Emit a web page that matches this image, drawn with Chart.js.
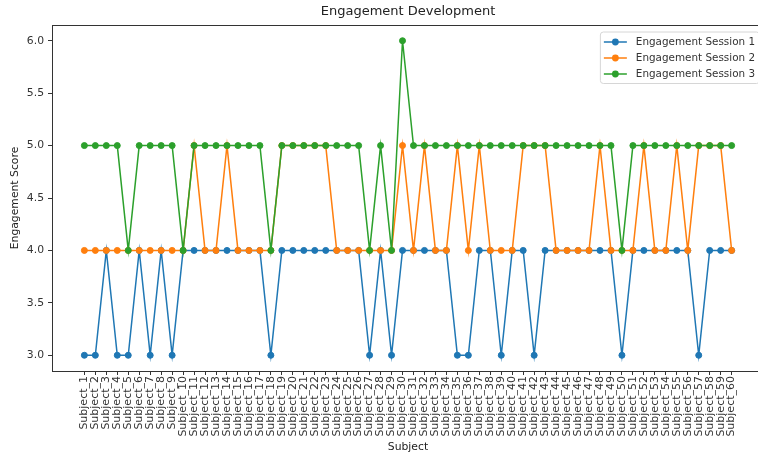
<!DOCTYPE html>
<html>
<head>
<meta charset="utf-8">
<title>Engagement Development</title>
<script src="https://cdn.jsdelivr.net/npm/chart.js@4.4.1/dist/chart.umd.min.js"></script>
<style>
  html, body { margin: 0; padding: 0; background: #fff; overflow: hidden; }
  canvas { display: block; }
</style>
</head>
<body>
<canvas id="engagementChart" width="769" height="454"></canvas>
<script>
// Subject_1 ... Subject_60
const subjects = Array.from({ length: 60 }, (_, i) => 'Subject_' + (i + 1));

const session1 = [
  3, 3, 4, 3, 3, 4, 3, 4, 3, 4,
  4, 4, 4, 4, 4, 4, 4, 3, 4, 4,
  4, 4, 4, 4, 4, 4, 3, 4, 3, 4,
  4, 4, 4, 4, 3, 3, 4, 4, 3, 4,
  4, 3, 4, 4, 4, 4, 4, 4, 4, 3,
  4, 4, 4, 4, 4, 4, 3, 4, 4, 4
];
const session2 = [
  4, 4, 4, 4, 4, 4, 4, 4, 4, 4,
  5, 4, 4, 5, 4, 4, 4, 4, 5, 5,
  5, 5, 5, 4, 4, 4, 4, 4, 4, 5,
  4, 5, 4, 4, 5, 4, 5, 4, 4, 4,
  5, 5, 5, 4, 4, 4, 4, 5, 4, 4,
  4, 5, 4, 4, 5, 4, 5, 5, 5, 4
];
const session3 = [
  5, 5, 5, 5, 4, 5, 5, 5, 5, 4,
  5, 5, 5, 5, 5, 5, 5, 4, 5, 5,
  5, 5, 5, 5, 5, 5, 4, 5, 4, 6,
  5, 5, 5, 5, 5, 5, 5, 5, 5, 5,
  5, 5, 5, 5, 5, 5, 5, 5, 5, 4,
  5, 5, 5, 5, 5, 5, 5, 5, 5, 5
];
const seriesNames = ['Engagement Session 1', 'Engagement Session 2', 'Engagement Session 3'];
const seriesColors = ['#1f77b4', '#ff7f0e', '#2ca02c'];
const yTicks = [3.0, 3.5, 4.0, 4.5, 5.0, 5.5, 6.0];

const FONT = "'DejaVu Sans', sans-serif";
const INK = '#333';

// matplotlib-style 5% margins around the data
const xPad = (subjects.length - 1) * 0.05;
const yMin = Math.min(...session1, ...session2, ...session3);
const yMax = Math.max(...session1, ...session2, ...session3);
const yPad = (yMax - yMin) * 0.05;

function toPoints(values) {
  return values.map((v, i) => ({ x: i + 1, y: v }));
}

// full box around the plot area
const framePlugin = {
  id: 'frame',
  afterDatasetsDraw(chart) {
    const { ctx, chartArea: a } = chart;
    ctx.save();
    ctx.strokeStyle = INK;
    ctx.lineWidth = 1;
    ctx.strokeRect(a.left + 0.5, a.top + 0.5, a.right - a.left - 1, a.bottom - a.top);
    ctx.restore();
  }
};

// legend inside the upper right corner, line + marker handles
const innerLegend = {
  id: 'innerLegend',
  afterDraw(chart) {
    const { ctx, chartArea: a } = chart;
    const sets = chart.data.datasets;
    const fontSize = 10.4;
    ctx.save();
    ctx.font = fontSize + 'px ' + FONT;
    const textW = Math.max(...sets.map(d => ctx.measureText(d.label).width));
    const rowH = 16;
    const w = 36 + textW + 4;
    const h = sets.length * rowH + 3.5;
    const x = a.right - 5 - w;
    const y = a.top + 6.5;

    ctx.beginPath();
    ctx.roundRect(x + 0.5, y + 0.5, w, h, 3);
    ctx.fillStyle = 'rgba(255,255,255,0.8)';
    ctx.fill();
    ctx.strokeStyle = '#d6d6d6';
    ctx.lineWidth = 1;
    ctx.stroke();

    sets.forEach((d, i) => {
      const cy = y + 10.5 + i * rowH;
      ctx.strokeStyle = d.borderColor;
      ctx.lineWidth = 1.5;
      ctx.beginPath();
      ctx.moveTo(x + 4, cy);
      ctx.lineTo(x + 27, cy);
      ctx.stroke();
      ctx.fillStyle = d.borderColor;
      ctx.beginPath();
      ctx.arc(x + 15.5, cy, 3.4, 0, Math.PI * 2);
      ctx.fill();
      ctx.fillStyle = INK;
      ctx.textBaseline = 'middle';
      ctx.textAlign = 'left';
      ctx.fillText(d.label, x + 36, cy + 0.5);
    });
    ctx.restore();
  }
};

const seriesValues = [session1, session2, session3];

new Chart(document.getElementById('engagementChart'), {
  type: 'line',
  data: {
    datasets: seriesValues.map((values, i) => ({
      label: seriesNames[i],
      data: toPoints(values),
      borderColor: seriesColors[i],
      backgroundColor: seriesColors[i],
      pointBackgroundColor: seriesColors[i],
      pointBorderColor: seriesColors[i],
      borderWidth: 1.5,
      pointRadius: 3,
      pointBorderWidth: 1,
      tension: 0,
      fill: false,
      // lowest order is painted last, so session 3 ends up on top
      order: seriesValues.length - 1 - i
    }))
  },
  options: {
    responsive: false,
    animation: false,
    layout: { padding: 0 },
    plugins: {
      legend: { display: false },
      tooltip: { enabled: false },
      title: {
        display: true,
        text: 'Engagement Development',
        fullSize: false,
        color: '#222',
        font: { family: FONT, size: 13, weight: 'normal' },
        padding: { top: 4, bottom: 5.4 }
      }
    },
    scales: {
      x: {
        type: 'linear',
        min: 1 - xPad,
        max: subjects.length + xPad,
        afterBuildTicks: scale => { scale.ticks = subjects.map((_, i) => ({ value: i + 1 })); },
        afterFit: scale => { scale.height = 83; },
        ticks: {
          autoSkip: false,
          minRotation: 90,
          maxRotation: 90,
          padding: 1,
          color: INK,
          font: { family: FONT, size: 11 },
          callback: value => subjects[value - 1]
        },
        grid: { drawOnChartArea: false, drawTicks: true, tickLength: 4, tickColor: INK },
        border: { color: INK },
        title: {
          display: true,
          text: 'Subject',
          color: '#222',
          font: { family: FONT, size: 10.8 },
          padding: { top: 0, bottom: 0 }
        }
      },
      y: {
        min: yMin - yPad,
        max: yMax + yPad,
        afterBuildTicks: scale => { scale.ticks = yTicks.map(v => ({ value: v })); },
        afterFit: scale => { scale.width = 52; },
        ticks: {
          padding: 4,
          color: INK,
          font: { family: FONT, size: 10.8 },
          callback: value => Number(value).toFixed(1)
        },
        grid: { drawOnChartArea: false, drawTicks: true, tickLength: 4, tickColor: INK },
        border: { color: INK },
        title: {
          display: true,
          text: 'Engagement Score',
          color: '#222',
          font: { family: FONT, size: 10.8 },
          padding: { top: 8.4, bottom: 0 }
        }
      }
    }
  },
  plugins: [framePlugin, innerLegend]
});
</script>
</body>
</html>
